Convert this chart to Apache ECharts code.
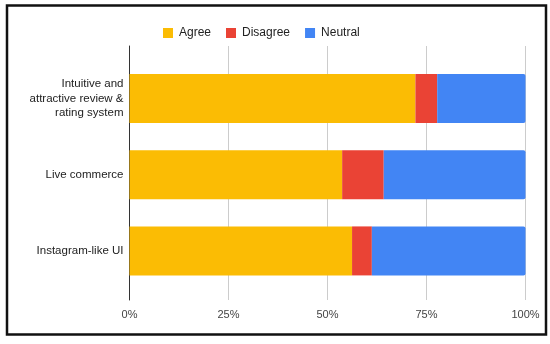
<!DOCTYPE html>
<html>
<head>
<meta charset="utf-8">
<script src="https://cdn.jsdelivr.net/npm/echarts@6/dist/echarts.min.js"></script>
<style>html,body{margin:0;padding:0;background:#fff}#c{width:550px;height:344px}</style>
</head>
<body>
<div id="c"></div>
<script>
const categories = ["Intuitive and\nattractive review &\nrating system", "Live commerce", "Instagram-like UI"];
const seriesNames = ["Agree", "Disagree", "Neutral"];
const agree = [72.2, 53.7, 56.2];
const disagree = [5.5, 10.5, 5.0];
const neutral = [22.3, 35.8, 38.8];
const tickLabels = ["0%", "25%", "50%", "75%", "100%"];
const colors = ["#FBBC04", "#EA4335", "#4285F4"];

const font = "Liberation Sans, Arial, sans-serif";
const chart = echarts.init(document.getElementById('c'), null, {renderer: 'canvas'});
const values = [agree, disagree, neutral];
chart.setOption({
  animation: false,
  textStyle: {fontFamily: font},
  color: colors,
  graphic: [{
    type: 'rect', z: 100,
    shape: {x: 7, y: 5.5, width: 539, height: 329},
    style: {fill: 'none', stroke: '#111', lineWidth: 2.5}
  }],
  legend: {
    top: 22, left: 158,
    icon: 'rect', itemWidth: 10, itemHeight: 10, itemGap: 15,
    textStyle: {fontSize: 12, color: '#222', fontFamily: font, padding: [0,0,0,1]},
    data: seriesNames
  },
  grid: [
    {left: 129.5, right: 24.5, top: 46, bottom: 44},
    {left: 129.5, right: 24.5, top: 60.5, height: 228.5}
  ],
  xAxis: [
    {gridIndex: 0, type: 'value', min: 0, max: 100, interval: 25,
     axisLine: {show: false}, axisTick: {show: false},
     splitLine: {lineStyle: {color: '#cccccc', width: 1}},
     axisLabel: {color: '#444', fontSize: 11, margin: 9, fontFamily: font,
       formatter: v => tickLabels[Math.round(v / 25)]}},
    {gridIndex: 1, type: 'value', min: 0, max: 100, show: false}
  ],
  yAxis: [
    {gridIndex: 0, type: 'value', min: 0, max: 1,
     axisLine: {show: true, onZero: false, lineStyle: {color: '#333', width: 1}},
     axisTick: {show: false}, axisLabel: {show: false}, splitLine: {show: false}},
    {gridIndex: 1, type: 'category', data: categories, inverse: true,
     axisLine: {show: false}, axisTick: {show: false},
     axisLabel: {color: '#222', fontSize: 11.5, lineHeight: 14.5, margin: 6, align: 'right', fontFamily: font}}
  ],
  series: seriesNames.map((n, i) => ({
    name: n, type: 'bar', stack: 'total', xAxisIndex: 1, yAxisIndex: 1,
    data: values[i], barWidth: 49,
    itemStyle: {color: colors[i], borderRadius: i === 2 ? [0, 2, 2, 0] : 0}
  }))
});
</script>
</body>
</html>
